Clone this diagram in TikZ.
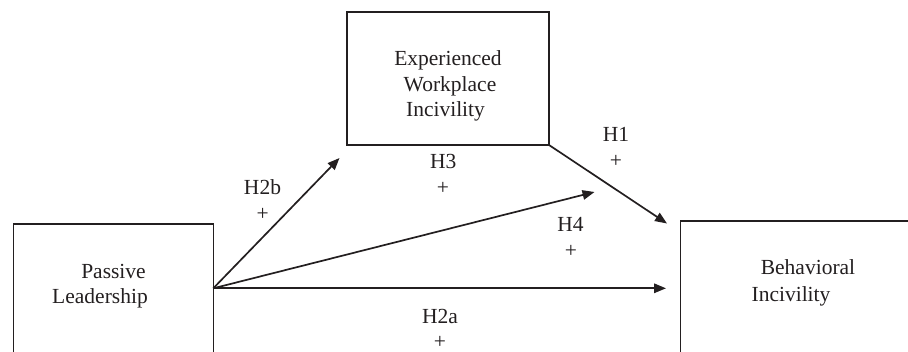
\documentclass[tikz,border=0pt]{standalone}
\usepackage{fontspec}
\setmainfont{Liberation Serif}
\usetikzlibrary{arrows.meta}
\definecolor{ink}{HTML}{231F20}
\begin{document}
\begin{tikzpicture}[x=1pt,y=-1pt,
  box/.style={draw=ink,line width=1.2pt,inner sep=0pt,outer sep=0pt},
  txt/.style={anchor=base,inner sep=0pt,text=ink,font=\fontsize{21.5}{25}\selectfont},
  conn/.style={draw=ink,line width=1.7pt,-{Triangle[length=12pt,width=9.5pt]}}]
\useasboundingbox (0,0) rectangle (908,352);
\clip (0,0) rectangle (908,352);
% boxes
\node[box,minimum width=202pt,minimum height=133pt] (exp) at (448,78.5) {};
\node[box,minimum width=200pt,minimum height=180pt] (pas) at (113.3,314) {};
\node[box,minimum width=280pt,minimum height=180pt] (beh) at (820.7,311) {};
% box texts
\node[txt] (e1) at (448,66) {Experienced};
\node[txt] (e2) at (450,92) {Workplace};
\node[txt] (e3) at (445.5,117) {Incivility};
\node[txt] (p1) at (113.5,279) {Passive};
\node[txt] (p2) at (100,304) {Leadership};
\node[txt] (b1) at (808,275) {Behavioral};
\node[txt] (b2) at (791,301.5) {Incivility};
% arrow ends
\coordinate (src) at ([yshift=-64.3pt]pas.north east);
\coordinate (t2b) at (339.5,158);
\coordinate (t4) at (594.5,192);
\coordinate (t2a) at (666,288.3);
\coordinate (t1) at (667,223.5);
% connectors
\draw[conn] (src) -- (t2b);
\draw[conn] (src) -- (t4);
\draw[conn] (src) -- (t2a);
\draw[conn] (exp.south east) -- (t1);
% labels
\node[txt] (l2b) at (262.5,195) {H2b};
\node[txt] (l2bp) at (262.7,221) {+};
\node[txt] (l3) at (443.3,169) {H3};
\node[txt] (l3p) at (443,195) {+};
\node[txt] (l1) at (616,141.7) {H1};
\node[txt] (l1p) at (616,167.5) {+};
\node[txt] (l4) at (570.5,231.7) {H4};
\node[txt] (l4p) at (571,258) {+};
\node[txt] (l2a) at (440,323.3) {H2a};
\node[txt] (l2ap) at (440,349) {+};
\end{tikzpicture}
\end{document}
